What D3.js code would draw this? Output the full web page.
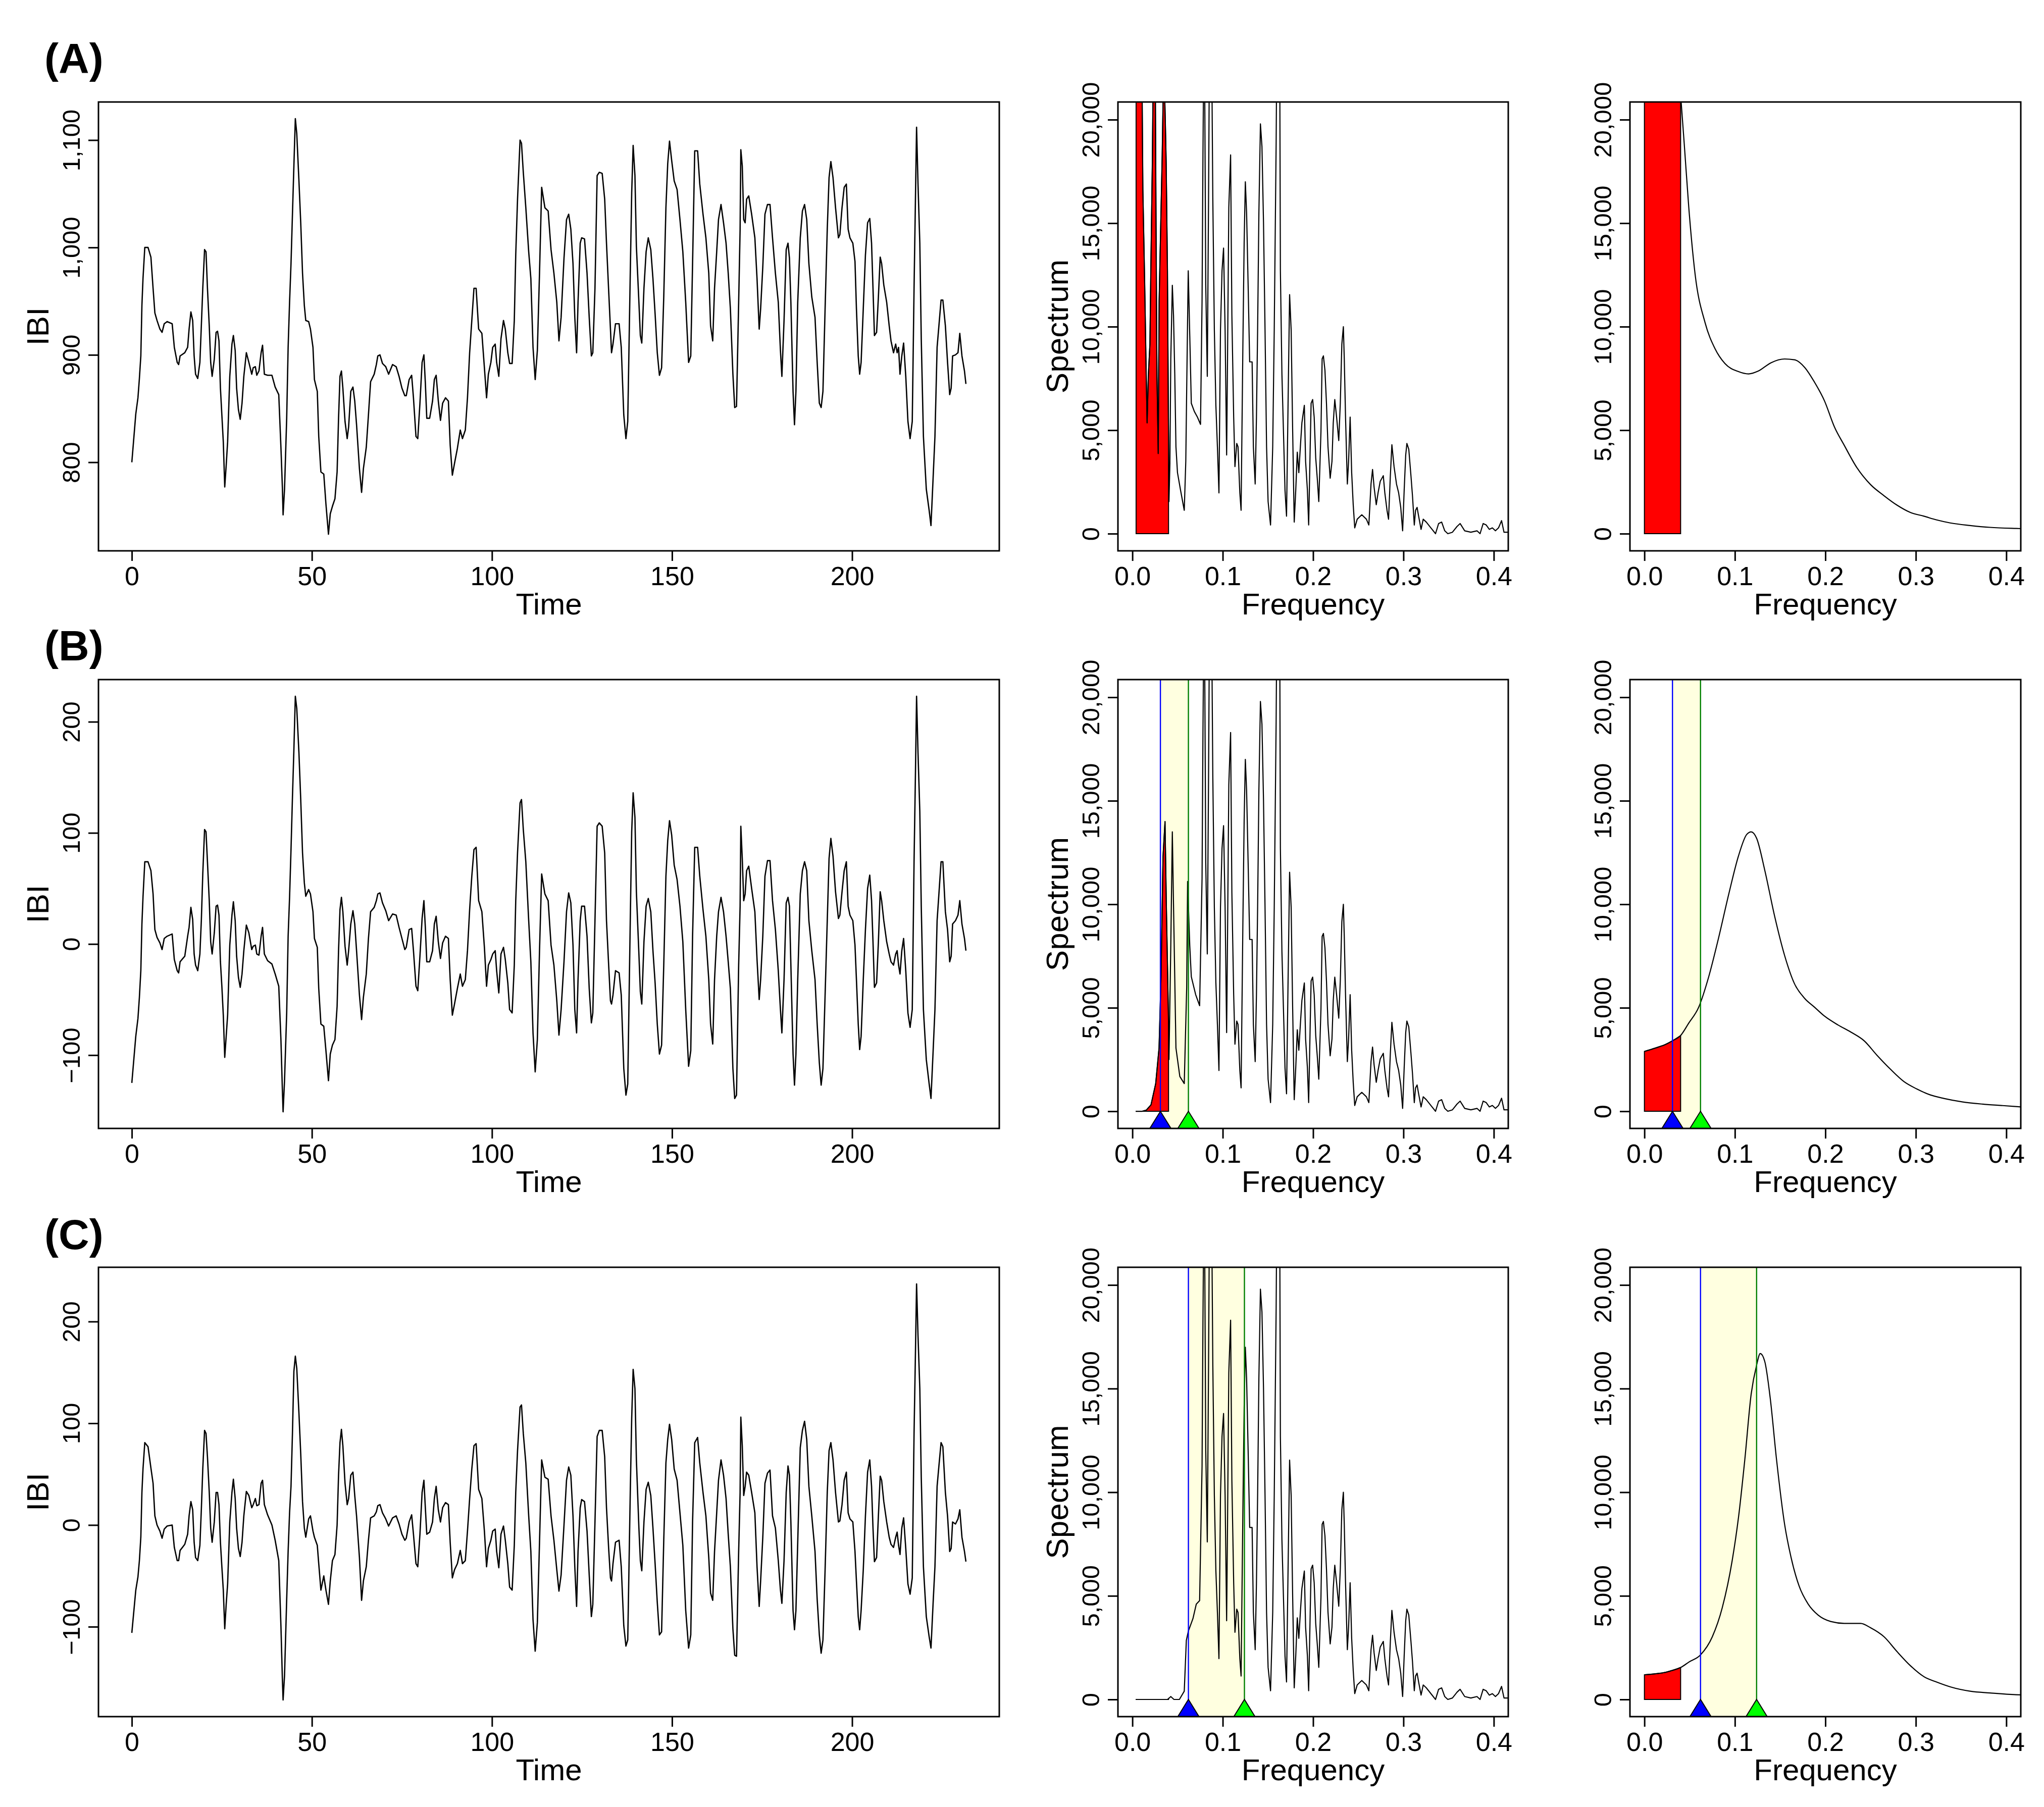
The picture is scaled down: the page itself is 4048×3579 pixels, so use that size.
<!DOCTYPE html>
<html><head><meta charset="utf-8">
<script src="https://cdn.jsdelivr.net/npm/d3@7/dist/d3.min.js"></script>
<style>body{margin:0;background:#fff}svg{display:block}</style>
</head><body>
<svg id="chart" width="4048" height="3579"></svg>
<script>
// ---------------- DATA ----------------
const rowLabels = ["(A)", "(B)", "(C)"];
const timeTicks = [0, 50, 100, 150, 200];
const ibiTicksA = [800, 900, 1000, 1100];
const ibiTicksBC = [-100, 0, 100, 200];
const freqTicks = [0, 0.1, 0.2, 0.3, 0.4];
const specTicks = [0, 5000, 10000, 15000, 20000];

const timeSec = [
0,1.1,1.7,2.1,2.5,2.8,3.1,3.6,4.5,5.3,
5.9,6.4,7.0,7.8,8.4,9.0,9.8,11.2,11.8,12.6,
13.0,13.4,14.7,15.5,15.9,16.4,16.9,17.3,17.7,18.3,
18.9,19.3,19.7,20.2,20.6,21.0,21.5,21.9,22.3,22.9,
23.4,23.8,24.2,24.6,25.0,25.4,25.8,26.2,26.6,27.2,
27.8,28.2,28.7,29.1,29.6,30.1,30.6,31.1,31.8,32.5,
33.3,33.7,34.3,34.7,35.3,35.9,36.3,36.8,37.7,38.9,
39.8,40.8,41.4,41.8,42.0,42.4,43.0,43.4,43.8,44.2,
44.6,45.0,45.4,45.8,46.4,46.9,47.4,47.9,48.3,49.1,
49.6,50.3,50.7,51.5,51.9,52.5,53.3,53.9,54.6,55.1,
55.7,56.4,57.0,57.4,57.8,58.2,58.6,59.2,59.8,60.2,
60.8,61.4,61.9,62.4,63.2,63.8,64.3,65.1,65.7,66.3,
67.3,67.9,68.3,68.9,69.6,70.5,71.3,72.4,73.4,74.2,
75.0,75.8,76.2,77.0,77.7,78.2,78.9,79.4,80.0,80.6,
81.1,81.5,81.9,82.7,83.5,84.0,84.5,85.1,85.7,86.3,
87.1,87.9,88.4,89.0,89.6,90.4,91.2,91.8,92.6,93.2,
93.8,94.4,95.0,95.6,96.3,97.2,97.9,98.5,99.0,99.7,
100.2,100.9,101.3,101.9,102.5,103.2,103.7,104.4,104.9,105.6,
106.2,106.6,107.1,107.8,108.2,108.7,109.4,110.2,110.8,111.4,
112.0,112.6,113.2,113.8,114.7,
115.6,116.4,117.2,118.0,118.6,119.2,120.0,120.7,121.3,121.9,
122.5,123.0,123.5,123.9,124.5,124.9,125.7,126.4,127.0,127.6,
128.0,128.6,129.2,129.8,130.6,131.3,131.8,132.4,132.9,133.2,
133.6,134.3,135.3,135.9,136.6,137.2,137.7,138.4,138.8,139.2,
139.7,140.1,140.8,141.2,141.6,142.2,142.8,143.4,144.1,144.7,
145.3,145.9,146.5,147.1,147.7,148.3,148.8,149.3,149.9,150.6,
151.4,152.2,153.0,153.8,154.6,155.2,155.7,156.3,157.1,157.7,
158.6,159.4,160.2,160.7,161.3,161.8,162.4,162.9,163.6,164.3,
165.0,165.6,166.2,166.9,167.4,167.9,168.5,168.9,169.1,169.5,
169.9,170.3,170.7,171.3,172.1,173.0,173.6,174.2,174.6,175.2,
175.8,176.5,177.2,177.9,178.7,179.5,180.1,180.5,181.1,181.7,
182.2,182.6,183.0,183.6,184.0,184.4,184.9,185.6,186.2,186.8,
187.4,188.0,188.8,189.7,190.3,190.9,191.4,191.9,192.5,193.1,
193.6,194.1,194.7,195.4,196.2,196.6,197.2,197.8,198.4,198.9,
199.4,200.2,200.8,201.2,201.7,202.1,202.5,203.1,203.7,204.3,
204.9,205.4,205.8,206.2,206.8,207.3,207.8,208.2,208.8,209.6,
210.3,210.8,211.5,212.1,212.5,212.9,213.3,213.8,214.3,214.9,
215.5,216.1,216.7,217.2,217.6,217.9,218.3,218.8,219.2,219.8,
220.6,221.4,221.9,222.5,223.0,223.6,224.1,224.7,225.2,225.9,
226.5,227.1,227.5,227.9,228.7,229.4,229.9,230.5,231.2,231.6];

const ibiRaw = [
800,845,860,878,899,946,971,1000,1000,991,
962,939,932,924,921,929,931,929,907,893,
891,899,902,907,924,940,932,899,882,878,
893,927,962,998,996,962,927,893,880,896,
921,922,913,869,844,819,777,797,819,880,
910,918,904,869,849,840,855,880,902,893,
882,888,889,881,885,902,909,882,881,881,
870,863,814,777,751,775,841,907,949,985,
1031,1076,1120,1106,1062,1023,976,946,932,931,
924,907,877,866,824,791,789,761,733,752,
759,766,791,841,880,885,869,838,822,833,
866,870,857,835,794,772,794,814,844,875,
882,891,899,900,892,889,882,891,889,880,
869,862,862,877,881,860,824,822,855,893,
900,874,841,841,857,877,881,857,839,855,
860,857,816,788,799,813,830,822,830,860,
902,932,962,962,924,920,888,860,882,893,
907,910,893,880,915,932,924,902,892,892,
932,993,1045,1100,1097,1070,1037,996,971,907,
877,904,976,1056,1037,
1034,998,976,949,913,935,990,1026,1031,1017,
985,935,902,949,1004,1009,1008,976,935,899,
902,962,1067,1070,1069,1045,1004,960,924,902,
910,929,929,907,844,822,838,976,1051,1095,
1067,1001,949,918,911,962,996,1009,998,971,
938,902,881,888,954,1037,1078,1099,1081,1062,
1054,1026,996,949,893,899,985,1090,1090,1059,
1031,1009,976,927,913,962,996,1026,1040,1023,
1004,976,943,882,851,852,949,1017,1091,1076,
1026,1023,1045,1048,1031,1009,971,924,943,982,
1031,1040,1040,1009,976,949,904,880,932,998,
1004,990,949,866,835,866,949,1009,1034,1040,
1026,985,954,935,893,855,851,866,943,1017,
1065,1080,1065,1037,1009,1012,1037,1056,1059,1017,
1009,1004,987,943,899,882,893,943,993,1023,
1027,1004,962,918,921,954,991,985,965,949,
927,913,902,910,902,907,882,899,911,880,
838,822,838,962,1048,1112,1059,1004,915,824,
775,755,741,786,824,907,927,951,951,927,
893,863,869,899,900,902,920,899,885,873];

const ibiDetrended = [
-125,-83,-67,-48,-24,18,42,74,74,66,
45,13,6,1,-5,5,7,9,-14,-24,
-26,-16,-11,7,15,33,22,-9,-19,-24,
-9,21,63,103,101,74,39,2,-9,10,
34,35,26,-16,-38,-64,-102,-83,-64,-1,
26,38,21,-11,-30,-39,-27,-6,17,10,
-5,-2,-1,-9,-10,7,15,-9,-15,-18,
-27,-38,-86,-131,-151,-123,-62,7,42,85,
132,175,223,212,172,130,82,55,43,49,
45,29,5,-3,-40,-72,-74,-96,-123,-99,
-91,-86,-56,-6,31,42,29,-2,-19,-6,
18,30,18,-6,-46,-68,-48,-27,5,29,
33,39,45,46,37,30,21,27,26,15,
5,-5,-3,13,14,-6,-38,-42,-11,23,
39,15,-16,-16,-6,18,25,2,-13,1,
7,5,-32,-64,-54,-40,-27,-38,-32,-6,
31,61,85,87,39,29,-3,-38,-19,-14,
-9,-6,-24,-44,-9,-3,-14,-35,-59,-62,
-19,39,82,127,130,103,74,21,-16,-80,
-115,-86,-6,63,45,
39,-1,-19,-51,-82,-59,-16,29,46,37,
-1,-59,-80,-32,21,34,34,7,-40,-71,
-62,21,106,109,106,82,21,-19,-51,-54,
-46,-24,-26,-46,-112,-136,-126,21,101,136,
114,47,-9,-43,-54,2,34,41,29,-6,
-35,-72,-99,-91,-19,61,93,111,98,71,
58,34,2,-59,-110,-96,7,87,87,61,
31,7,-32,-72,-90,-32,7,29,42,29,
7,-16,-40,-112,-139,-136,-19,34,106,77,
39,45,66,70,50,29,-14,-50,-32,7,
61,75,75,39,13,-24,-59,-80,-32,37,
42,34,-19,-99,-127,-99,-32,45,66,74,
66,21,-6,-32,-72,-107,-127,-112,-46,21,
77,95,79,47,23,26,47,66,74,34,
26,21,-1,-32,-72,-95,-83,-32,13,50,
62,39,2,-39,-35,2,47,39,21,2,
-9,-16,-19,-9,-6,-19,-27,-6,5,-24,
-62,-75,-59,74,156,223,172,119,34,-59,
-104,-126,-139,-96,-59,21,45,74,74,29,
13,-16,-11,18,21,26,39,18,5,-6];

const ibiFiltered = [
-106,-64,-51,-35,-12,32,55,81,77,56,
41,9,0,-6,-13,-4,-1,0,-22,-35,
-35,-25,-19,-9,9,23,15,-17,-32,-35,
-20,15,55,93,90,67,32,-3,-17,3,
32,32,20,-17,-41,-64,-102,-78,-58,3,
32,45,26,-3,-23,-31,-17,9,33,29,
17,20,26,19,20,41,44,20,10,0,
-15,-35,-99,-151,-172,-148,-73,-26,12,38,
90,151,166,154,110,70,23,-3,-12,6,
9,-6,-12,-20,-38,-64,-50,-64,-78,-55,
-35,-29,0,49,81,94,78,41,20,26,
49,52,29,9,-32,-74,-55,-41,-15,7,
9,13,19,20,12,6,-1,7,9,1,
-9,-15,-13,3,10,-9,-38,-41,-9,32,
44,17,-9,-7,3,26,38,15,3,17,
22,20,-17,-52,-44,-38,-25,-38,-35,-6,
26,55,78,80,35,26,-6,-41,-23,-15,
-6,-4,-26,-42,-9,-1,-15,-38,-61,-64,
-20,32,73,116,118,90,61,9,-26,-93,
-124,-96,-17,64,47,
45,9,-15,-44,-65,-49,0,44,57,49,
9,-41,-80,-26,17,25,23,-6,-49,-90,
-78,3,87,93,93,67,17,-23,-52,-55,
-38,-17,-15,-41,-99,-119,-113,32,105,153,
134,64,-3,-35,-45,3,35,42,29,-3,
-38,-76,-108,-105,-15,61,84,99,84,55,
44,12,-20,-84,-121,-108,3,81,86,61,
32,9,-32,-67,-74,-26,12,44,64,49,
26,-9,-41,-102,-128,-129,-26,32,106,78,
29,38,52,49,32,12,-41,-80,-55,-12,
41,51,54,9,-3,-35,-64,-77,-35,32,
58,49,3,-84,-103,-84,-17,76,93,102,
84,38,9,-26,-73,-108,-126,-113,-44,32,
73,81,64,32,3,4,20,44,52,12,
6,3,-26,-55,-90,-103,-84,-44,9,52,
64,38,-3,-36,-32,9,48,44,23,3,
-12,-19,-22,-12,-7,-20,-29,-3,7,-23,
-58,-68,-52,90,172,237,186,134,47,-41,
-90,-110,-121,-76,-41,38,58,81,77,32,
9,-26,-23,3,1,6,15,-12,-26,-36];

// periodogram, low-frequency part (differs per row)
const lowFreqA = [0.0041,0.0092,0.0116,0.0136,0.0153,0.0163,0.0177,0.0194,0.0204,0.0221,0.0238,0.0251,0.0262,0.0272,0.0286,0.0296,0.0313,0.0330,0.0347,0.0364,0.0374,0.0388,0.0398,0.0405,0.0415,0.0425,0.0442,0.0455,0.0469,0.0482,0.0499,0.0533,0.0574,0.0591,0.0601,0.0618,0.0635,0.0652,0.0686,0.0720,0.0754];
const lowPowA = [45000,30000,16600,12100,7700,5350,7700,9150,12700,18000,26000,24000,14800,7600,3870,11260,14800,18300,23000,20000,17900,12700,5900,1550,3380,8450,12000,10560,7700,4200,2950,2100,1130,3500,7000,12700,9570,6300,5900,5630,5280];
const lowFreqB = [0.0037,0.0110,0.0155,0.0206,0.0258,0.0295,0.0317,0.0339,0.0361,0.0376,0.0398,0.0405,0.0425,0.0442,0.0455,0.0482,0.0525,0.0574,0.0601,0.0611,0.0635,0.0652,0.0700,0.0744];
const lowPowB = [0,0,60,310,1340,3060,6500,12300,14000,9900,4800,2500,8000,13500,10000,3060,1680,1340,6000,11100,8000,6500,5640,5100];
const lowFreqC = [0.0037,0.0200,0.0390,0.0425,0.0460,0.0520,0.0574,0.0597,0.0619,0.0670,0.0707,0.0744];
const lowPowC = [0,0,0,140,0,0,400,2850,3290,3900,4600,4770];
// periodogram, shared part above 0.077 Hz
const highFreq = [0.0771,0.0781,0.0795,0.0812,0.0829,0.0843,0.0856,0.0873,0.0890,0.0907,
0.0924,0.0941,0.0958,0.0975,0.0992,0.1009,0.1026,0.1043,0.1053,0.1067,
0.1087,0.1101,0.1121,0.1135,0.1155,0.1169,0.1189,0.1203,0.1223,0.1237,
0.1250,0.1264,0.1281,0.1298,0.1325,0.1339,0.1359,0.1373,0.1386,0.1400,
0.1417,0.1434,0.1451,0.1468,0.1485,0.1502,0.1529,0.1553,0.1570,0.1591,
0.1604,0.1628,0.1638,0.1655,0.1672,0.1689,0.1706,0.1723,0.1740,0.1757,
0.1774,0.1791,0.1808,0.1825,0.1842,0.1859,0.1876,0.1903,0.1917,0.1937,
0.1951,0.1968,0.1978,0.1995,0.2012,0.2029,0.2046,0.2063,0.2087,0.2100,
0.2114,0.2131,0.2148,0.2165,0.2189,0.2209,0.2223,0.2240,0.2260,0.2284,
0.2301,0.2318,0.2335,0.2345,0.2359,0.2379,0.2393,0.2410,0.2427,0.2444,
0.2461,0.2488,0.2539,0.2590,0.2617,0.2641,0.2658,0.2675,0.2699,0.2719,
0.2743,0.2777,0.2794,0.2818,0.2835,0.2855,0.2872,0.2896,0.2923,0.2947,
0.2970,0.2991,0.3008,0.3025,0.3038,0.3059,0.3083,0.3100,0.3120,0.3134,
0.3151,0.3168,0.3195,0.3219,0.3253,0.3304,0.3355,0.3389,0.3423,0.3457,
0.3491,0.3542,0.3593,0.3627,0.3678,0.3746,0.3814,0.3848,0.3882,0.3916,
0.3950,0.3984,0.4018,0.4052,0.4086,0.4113,0.4154];
const highPow = [11260,18300,26000,12000,7600,16200,26000,26000,16200,9860,
6200,4200,1970,9860,12700,13800,9860,3800,8450,15770,
18300,10560,5630,3240,4360,4200,1970,1130,9150,14080,
17000,15500,12000,8300,8300,4200,2400,5630,9860,15500,
19800,18700,15060,9860,4200,1550,420,4200,9860,18870,
27000,27000,12700,7700,4930,2100,845,6300,11550,9860,
4930,560,2100,3940,2950,4200,5350,6200,3500,2100,
420,4200,6300,6480,5630,3660,2680,1550,4930,8450,
8590,7900,6300,4200,2680,3500,5350,6480,5630,4500,
6300,9150,10000,8450,5630,2400,3500,5630,2950,1400,
280,700,915,700,420,2400,3100,2250,1400,1970,
2530,2800,1970,1130,700,2800,4300,3240,2400,1970,
1270,140,2100,3800,4360,4080,2800,1830,420,1130,
1270,845,210,700,560,280,0,490,560,140,
0,70,350,490,140,70,140,0,490,420,
210,280,140,280,630,70,70];

// smoothed spectra (right column)
const smoothFreqA = [0,0.01,0.02,0.03,0.04,0.044,0.049,0.056,0.067,0.078,0.089,0.104,0.115,0.126,0.14,0.155,0.166,0.177,0.188,0.199,0.21,0.221,0.235,0.25,0.265,0.279,0.294,0.309,0.323,0.338,0.36,0.382,0.411,0.42];
const smoothPowA = [60000,45000,35000,27000,21200,18840,15780,12540,10200,8940,8220,7830,7720,7860,8260,8440,8400,8040,7320,6420,5160,4260,3180,2370,1830,1385,1025,845,665,520,396,306,252,240];
const smoothFreqB = [0,0.0124,0.0234,0.0307,0.04,0.049,0.06,0.071,0.082,0.093,0.104,0.113,0.118,0.124,0.133,0.144,0.155,0.166,0.177,0.188,0.199,0.214,0.228,0.243,0.257,0.272,0.287,0.301,0.316,0.331,0.352,0.374,0.396,0.42];
const smoothPowB = [2890,3060,3230,3400,3660,4260,5030,6490,8380,10450,12340,13370,13500,13190,11650,9410,7520,6150,5460,5030,4600,4170,3830,3400,2710,2030,1430,1080,790,620,450,345,275,200];
const smoothFreqC = [0,0.0124,0.0234,0.0307,0.04,0.049,0.062,0.075,0.086,0.097,0.104,0.111,0.118,0.124,0.128,0.133,0.139,0.146,0.155,0.162,0.171,0.181,0.192,0.206,0.221,0.239,0.25,0.265,0.279,0.294,0.309,0.323,0.338,0.36,0.382,0.411,0.42];
const smoothPowC = [1190,1240,1310,1400,1540,1800,2150,3020,4420,6700,8790,11590,14740,16130,16690,16310,14560,11590,8440,6870,5470,4600,4070,3760,3670,3670,3460,3020,2320,1630,1100,840,610,400,315,230,220];

const vlfUpper = 0.04;
const bandB = [0.031, 0.062];
const bandC = [0.062, 0.124];

// ---------------- LAYOUT ----------------
const W = 4048, H = 3579;
const FONT = "'Liberation Sans', Arial, Helvetica, sans-serif";
const cols = {left: [195, 1979], mid: [2214, 2987], right: [3228, 4002]};
const rows = {A: [202, 1091], B: [1346, 2235], C: [2510, 3400]};
const rowLabelY = {A: 145, B: 1308, C: 2474};
const specXDomain = [-0.016, 0.416];
const specYDomain = [-828, 20855];

const svg = d3.select("#chart");
svg.append("rect").attr("width", W).attr("height", H).attr("fill", "#fff");
const defs = svg.append("defs");

function pad(ext) { const r = ext[1] - ext[0]; return [ext[0] - 0.04 * r, ext[1] + 0.04 * r]; }

function panel(key, col, row, xDom, yDom, xTicks, xFmt, yTicks, yFmt, xTitle, yTitle) {
  const [x0, x1] = cols[col], [y0, y1] = rows[row];
  const x = d3.scaleLinear().domain(xDom).range([x0, x1]);
  const y = d3.scaleLinear().domain(yDom).range([y1, y0]);
  const g = svg.append("g");
  defs.append("clipPath").attr("id", "clip" + key).append("rect")
    .attr("x", x0).attr("y", y0).attr("width", x1 - x0).attr("height", y1 - y0);
  const plot = g.append("g").attr("clip-path", `url(#clip${key})`);
  const marks = g.append("g");
  const top = g.append("g");
  const xa = top.append("g").attr("transform", `translate(0,${y1})`)
    .call(d3.axisBottom(x).tickValues(xTicks).tickFormat(xFmt).tickSize(20).tickPadding(11));
  const ya = top.append("g").attr("transform", `translate(${x0},0)`)
    .call(d3.axisLeft(y).tickValues(yTicks).tickFormat(yFmt).tickSize(20));
  [xa, ya].forEach(a => {
    a.select(".domain").remove();
    a.selectAll("line").attr("stroke", "#000").attr("stroke-width", 3);
    a.selectAll("text").attr("fill", "#000").style("font-family", FONT);
  });
  xa.selectAll("text").style("font-size", "52px");
  ya.selectAll("text").style("font-size", "49px")
    .attr("transform", "rotate(-90)").attr("x", 0).attr("y", -37).attr("dy", "0")
    .attr("text-anchor", "middle");
  top.append("rect").attr("x", x0).attr("y", y0).attr("width", x1 - x0).attr("height", y1 - y0)
    .attr("fill", "none").attr("stroke", "#000").attr("stroke-width", 3);
  top.append("text").text(xTitle).attr("x", (x0 + x1) / 2).attr("y", y1 + 126)
    .attr("text-anchor", "middle").style("font-family", FONT).style("font-size", "60px");
  if (yTitle) {
    top.append("text").text(yTitle)
      .attr("transform", `translate(${x0 - 99},${(y0 + y1) / 2}) rotate(-90)`)
      .attr("text-anchor", "middle").style("font-family", FONT).style("font-size", "62px");
  }
  return {x, y, plot, marks};
}

// time series panels
const tsSeries = [
  {key: "A", vals: ibiRaw, ticks: ibiTicksA},
  {key: "B", vals: ibiDetrended, ticks: ibiTicksBC},
  {key: "C", vals: ibiFiltered, ticks: ibiTicksBC}
];
tsSeries.forEach(s => {
  const p = panel("ts" + s.key, "left", s.key, pad(d3.extent(timeSec)), pad(d3.extent(s.vals)),
    timeTicks, d3.format("d"), s.ticks, d3.format(","), "Time", "IBI");
  const pts = timeSec.map((t, i) => [t, s.vals[i]]);
  p.plot.append("path").datum(pts)
    .attr("d", d3.line().x(d => p.x(d[0])).y(d => p.y(d[1])))
    .attr("fill", "none").attr("stroke", "#000").attr("stroke-width", 2.6).attr("stroke-linejoin", "round");
});

function interpAt(pts, f) {
  for (let i = 1; i < pts.length; i++) {
    if (pts[i][0] >= f) {
      const a = pts[i - 1], b = pts[i];
      return a[1] + (b[1] - a[1]) * (f - a[0]) / (b[0] - a[0]);
    }
  }
  return pts[pts.length - 1][1];
}

function spectrumPanel(key, col, row, pts, band, curve, yTitle) {
  const p = panel(key, col, row, specXDomain, specYDomain, freqTicks, d3.format(".1f"),
    specTicks, d3.format(","), "Frequency", yTitle);
  const [y0, y1] = rows[row];
  if (band) {
    p.plot.append("rect").attr("x", p.x(band[0])).attr("y", y0)
      .attr("width", p.x(band[1]) - p.x(band[0])).attr("height", y1 - y0)
      .attr("fill", "#FFFFE0");
  }
  // VLF red area
  let vlf = pts.filter(d => d[0] <= vlfUpper);
  if (vlf[vlf.length - 1][0] < vlfUpper) vlf = vlf.concat([[vlfUpper, interpAt(pts, vlfUpper)]]);
  p.plot.append("path").datum(vlf)
    .attr("d", d3.area().x(d => p.x(d[0])).y0(p.y(0)).y1(d => p.y(d[1])).curve(curve))
    .attr("fill", "#FF0000").attr("stroke", "#000").attr("stroke-width", 2);
  p.plot.append("path").datum(pts)
    .attr("d", d3.line().x(d => p.x(d[0])).y(d => p.y(d[1])).curve(curve))
    .attr("fill", "none").attr("stroke", "#000").attr("stroke-width", 2.2).attr("stroke-linejoin", "round");
  if (band) {
    [[band[0], "#0000FF"], [band[1], "#008000"]].forEach(([f, c]) => {
      p.plot.append("line").attr("x1", p.x(f)).attr("x2", p.x(f)).attr("y1", y0).attr("y2", y1)
        .attr("stroke", c).attr("stroke-width", 2.4);
    });
    [[band[0], "#0000FF"], [band[1], "#00FF00"]].forEach(([f, c]) => {
      const cx = p.x(f), yb = y1, ya = p.y(0);
      p.marks.append("path").attr("d", `M${cx - 21},${yb}L${cx + 21},${yb}L${cx},${ya}Z`)
        .attr("fill", c).attr("stroke", "#000").attr("stroke-width", 2);
    });
  }
}

const zipPts = (f, v) => f.map((d, i) => [d, v[i]]);
const periodA = zipPts(lowFreqA.concat(highFreq), lowPowA.concat(highPow));
const periodB = zipPts(lowFreqB.concat(highFreq), lowPowB.concat(highPow));
const periodC = zipPts(lowFreqC.concat(highFreq), lowPowC.concat(highPow));

spectrumPanel("pA", "mid", "A", periodA, null, d3.curveLinear, "Spectrum");
spectrumPanel("pB", "mid", "B", periodB, bandB, d3.curveLinear, "Spectrum");
spectrumPanel("pC", "mid", "C", periodC, bandC, d3.curveLinear, "Spectrum");
spectrumPanel("sA", "right", "A", zipPts(smoothFreqA, smoothPowA), null, d3.curveMonotoneX, null);
spectrumPanel("sB", "right", "B", zipPts(smoothFreqB, smoothPowB), bandB, d3.curveMonotoneX, null);
spectrumPanel("sC", "right", "C", zipPts(smoothFreqC, smoothPowC), bandC, d3.curveMonotoneX, null);

// row labels
["A", "B", "C"].forEach((r, i) => {
  svg.append("text").text(rowLabels[i]).attr("x", 88).attr("y", rowLabelY[r])
    .style("font-family", FONT).style("font-weight", "bold").style("font-size", "84px");
});
</script>
</body></html>
